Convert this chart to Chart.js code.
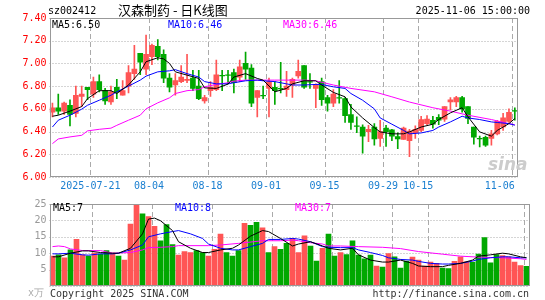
<!DOCTYPE html>
<html><head><meta charset="utf-8">
<script src="https://cdn.jsdelivr.net/npm/chart.js@4"></script>
<style>
body{margin:0;width:545px;height:300px;background:#fff;position:relative;overflow:hidden;font-family:"DejaVu Sans Mono",monospace;font-size:10px}
.t{position:absolute;white-space:nowrap;line-height:12px}
canvas{position:absolute;left:0}
</style></head><body>
<canvas id="k" width="545" height="200" style="top:0"></canvas>
<canvas id="v" width="545" height="105" style="top:195px"></canvas>
<div class="t" style="left:48px;top:5px;color:#000">sz002412</div>
<div class="t" style="left:118px;top:2px;font-family:'Noto Sans CJK SC';font-size:13px;line-height:16px;color:#000">汉森制药 - 日K线图</div>
<div class="t" style="right:15px;top:5px;color:#000">2025-11-06 15:00:00</div>
<div class="t" style="left:52px;top:19px;color:#000">MA5:6.50</div>
<div class="t" style="left:168px;top:19px;color:#0000ff">MA10:6.46</div>
<div class="t" style="left:283px;top:19px;color:#ff00ff">MA30:6.46</div>
<div class="t" style="left:53px;top:202px;color:#000">MA5:7</div>
<div class="t" style="left:175px;top:202px;color:#0000ff">MA10:8</div>
<div class="t" style="left:295px;top:202px;color:#ff00ff">MA30:7</div>
<div class="t" style="left:28px;top:287px;color:#aaa">x万</div>
<div class="t" style="left:50px;top:288px;color:#333">Copyright 2025 SINA.COM</div>
<div class="t" style="right:16px;top:288px;color:#333">http://finance.sina.com.cn</div>
<div class="t" style="left:488px;top:155px;color:#ccc;font-family:'DejaVu Sans';font-style:italic;font-weight:bold;font-size:17px;line-height:18px">sina</div>
<script>
const dates = ['2025-07-10','2025-07-11','2025-07-14','2025-07-15','2025-07-16','2025-07-17','2025-07-18','2025-07-21','2025-07-22','2025-07-23','2025-07-24','2025-07-25','2025-07-28','2025-07-29','2025-07-30','2025-07-31','2025-08-01','2025-08-04','2025-08-05','2025-08-06','2025-08-07','2025-08-08','2025-08-11','2025-08-12','2025-08-13','2025-08-14','2025-08-15','2025-08-18','2025-08-19','2025-08-20','2025-08-21','2025-08-22','2025-08-25','2025-08-26','2025-08-27','2025-08-28','2025-08-29','2025-09-01','2025-09-02','2025-09-03','2025-09-04','2025-09-05','2025-09-08','2025-09-09','2025-09-10','2025-09-11','2025-09-12','2025-09-15','2025-09-16','2025-09-17','2025-09-18','2025-09-19','2025-09-22','2025-09-23','2025-09-24','2025-09-25','2025-09-26','2025-09-29','2025-09-30','2025-10-09','2025-10-10','2025-10-13','2025-10-14','2025-10-15','2025-10-16','2025-10-17','2025-10-20','2025-10-21','2025-10-22','2025-10-23','2025-10-24','2025-10-27','2025-10-28','2025-10-29','2025-10-30','2025-10-31','2025-11-03','2025-11-04','2025-11-05','2025-11-06'];
const tickDates = ['2025-07-21','2025-08-04','2025-08-18','2025-09-01','2025-09-15','2025-09-29','2025-10-15','2025-11-06'];
const tickLabels = ['2025-07-21','08-04','08-18','09-01','09-15','09-29','10-15','11-06    '];
const priceTicks = ['6.00','6.20','6.40','6.60','6.80','7.00','7.20','7.40'];

const opens  = [6.57,6.61,6.58,6.63,6.56,6.71,6.79,6.73,6.84,6.76,6.66,6.79,6.72,6.80,6.91,7.09,6.95,7.06,7.15,7.08,6.87,6.81,6.84,6.85,6.87,6.80,6.67,6.76,6.77,6.895,6.90,6.92,6.88,7.00,6.96,6.70,6.72,6.78,6.79,6.78,6.77,6.81,6.89,6.98,6.84,6.78,6.84,6.70,6.65,6.70,6.69,6.55,6.45,6.44,6.40,6.44,6.34,6.43,6.415,6.355,6.33,6.32,6.39,6.41,6.47,6.50,6.525,6.51,6.66,6.66,6.70,6.62,6.44,6.34,6.35,6.34,6.38,6.44,6.49,6.585];
const highs  = [6.65,6.73,6.66,6.68,6.80,6.80,6.79,6.88,6.90,6.78,6.80,6.86,6.85,6.98,7.16,7.09,7.25,7.17,7.21,7.12,6.91,6.91,6.98,7.08,6.94,6.94,6.72,6.84,7.03,6.94,6.94,6.95,7.03,7.10,6.99,6.76,6.80,6.87,6.84,7.01,6.93,6.87,7.03,6.98,6.91,6.82,6.87,6.72,6.77,6.85,6.70,6.64,6.53,6.46,6.456,6.47,6.50,6.456,6.42,6.39,6.44,6.42,6.45,6.535,6.54,6.535,6.55,6.62,6.70,6.71,6.71,6.62,6.44,6.36,6.36,6.41,6.50,6.56,6.60,6.61];
const lows   = [6.53,6.55,6.55,6.45,6.53,6.62,6.68,6.70,6.75,6.64,6.64,6.69,6.72,6.74,6.86,6.90,6.90,6.99,7.03,6.83,6.75,6.72,6.83,6.83,6.76,6.68,6.65,6.71,6.76,6.76,6.82,6.74,6.84,6.86,6.62,6.53,6.69,6.53,6.64,6.74,6.71,6.70,6.87,6.78,6.78,6.61,6.63,6.58,6.62,6.65,6.48,6.42,6.39,6.21,6.31,6.28,6.27,6.27,6.32,6.25,6.33,6.18,6.34,6.40,6.46,6.43,6.46,6.49,6.59,6.62,6.57,6.47,6.29,6.265,6.27,6.28,6.37,6.41,6.48,6.50];
const closes = [6.61,6.58,6.65,6.55,6.72,6.73,6.77,6.84,6.77,6.67,6.75,6.75,6.76,6.92,6.95,7.01,7.08,7.16,7.06,6.87,6.79,6.85,6.88,6.86,6.78,6.69,6.70,6.79,6.90,6.89,6.895,6.83,6.97,6.95,6.65,6.76,6.715,6.84,6.76,6.775,6.80,6.86,6.93,6.79,6.835,6.81,6.68,6.65,6.73,6.695,6.54,6.48,6.445,6.36,6.42,6.335,6.40,6.40,6.36,6.335,6.43,6.405,6.42,6.505,6.51,6.465,6.50,6.62,6.68,6.70,6.60,6.515,6.35,6.335,6.28,6.38,6.49,6.52,6.57,6.58];
const volumes = [9.1,9.5,8.6,11.0,14.2,9.5,9.1,10.0,9.7,10.8,10.0,9.1,7.9,18.9,24.8,22.0,21.2,18.2,13.8,18.7,12.6,9.4,10.5,10.2,10.8,10.2,9.1,11.2,15.8,10.2,9.1,10.8,19.1,18.5,19.4,17.7,10.2,12.0,11.2,13.0,14.5,10.2,15.3,12.2,7.6,11.5,15.8,9.1,10.2,9.6,13.8,9.4,8.3,9.4,6.1,5.8,9.9,8.9,5.5,7.6,8.8,7.9,6.1,7.3,6.9,5.5,5.3,7.5,8.9,7.4,7.3,9.7,14.8,7.1,9.6,9.3,8.9,7.3,6.2,6.0];

// moving-average lines: [bar index, value]
const ma5Pts  = [[0,6.535],[1,6.544],[3,6.58],[5,6.62],[6,6.69],[8,6.76],[10,6.76],[11,6.735],[13,6.81],[15,6.926],[16,7.015],[18,7.05],[19,7.04],[20,7.00],[21,6.926],[23,6.897],[25,6.868],[26,6.785],[28,6.78],[30,6.818],[31,6.88],[33,6.91],[35,6.868],[36,6.853],[38,6.75],[40,6.78],[41,6.82],[43,6.847],[45,6.847],[46,6.81],[48,6.745],[50,6.706],[51,6.617],[53,6.52],[55,6.435],[56,6.397],[58,6.38],[60,6.38],[61,6.397],[63,6.44],[65,6.465],[66,6.506],[68,6.565],[70,6.61],[71,6.53],[73,6.397],[75,6.36],[76,6.41],[78,6.47],[79,6.515]];
const ma10Pts = [[0,6.44],[1,6.50],[3,6.544],[5,6.597],[6,6.632],[8,6.676],[10,6.72],[11,6.75],[13,6.80],[15,6.853],[16,6.888],[18,6.926],[20,6.935],[21,6.945],[23,6.91],[25,6.88],[26,6.84],[28,6.82],[30,6.82],[31,6.83],[33,6.847],[35,6.853],[36,6.847],[38,6.84],[40,6.82],[41,6.81],[43,6.81],[45,6.815],[46,6.815],[48,6.794],[50,6.78],[51,6.735],[53,6.676],[55,6.60],[56,6.52],[58,6.465],[60,6.41],[61,6.38],[63,6.388],[65,6.41],[66,6.44],[68,6.485],[70,6.535],[71,6.52],[73,6.506],[75,6.485],[76,6.48],[78,6.47],[79,6.456]];
const ma30Pts = [[0,6.294],[1,6.335],[3,6.353],[5,6.367],[6,6.406],[8,6.42],[10,6.43],[11,6.455],[13,6.50],[15,6.544],[16,6.60],[18,6.653],[20,6.697],[21,6.735],[23,6.76],[25,6.77],[26,6.794],[28,6.815],[30,6.83],[31,6.844],[33,6.853],[38,6.853],[43,6.853],[45,6.847],[48,6.81],[51,6.78],[55,6.75],[58,6.706],[61,6.66],[65,6.61],[68,6.58],[71,6.544],[75,6.506],[78,6.47],[79,6.46]];
const volMa5Pts  = [[0,8.9],[1,8.9],[3,10.0],[5,10.7],[6,10.7],[8,10.2],[10,10.0],[11,10.0],[13,11.5],[15,15.9],[16,20.4],[17,20.7],[18,19.9],[20,16.9],[21,13.5],[23,11.5],[25,10.2],[26,10.2],[28,11.0],[30,11.5],[31,12.5],[33,15.2],[35,16.9],[36,16.6],[38,14.5],[40,12.2],[41,12.8],[43,13.5],[45,12.2],[46,11.5],[48,11.0],[50,11.5],[51,9.5],[53,7.9],[55,7.3],[56,7.3],[58,7.9],[60,6.9],[61,6.1],[63,5.9],[65,5.9],[66,6.3],[68,6.9],[70,7.9],[71,9.1],[73,9.5],[75,10.0],[76,9.8],[78,8.9],[79,8.6]];
const volMa10Pts = [[0,9.8],[1,9.8],[3,10.0],[5,9.5],[6,9.4],[8,9.8],[10,9.8],[11,10.0],[13,11.0],[15,12.5],[16,15.0],[18,15.9],[20,16.6],[21,16.9],[23,15.9],[25,14.5],[26,12.8],[28,11.5],[30,11.0],[31,11.0],[33,12.0],[35,13.0],[36,14.2],[38,14.2],[40,14.5],[41,14.3],[43,13.5],[45,12.0],[46,11.8],[48,11.7],[50,11.7],[51,11.0],[53,10.2],[55,9.3],[56,8.6],[58,8.1],[60,7.9],[61,7.5],[63,6.9],[65,6.7],[66,6.7],[68,6.9],[70,7.6],[71,8.1],[73,8.6],[75,8.9],[76,8.9],[78,8.6],[79,8.6]];
const volMa30Pts = [[0,12.0],[1,12.2],[2,12.0],[3,11.3],[5,10.8],[8,10.8],[10,10.0],[13,10.2],[15,11.0],[16,11.7],[18,11.8],[20,12.0],[21,12.3],[26,12.3],[28,12.5],[31,13.0],[35,13.8],[38,13.8],[40,14.0],[41,13.8],[43,13.2],[45,12.8],[46,12.2],[48,12.2],[51,12.0],[55,11.8],[58,11.4],[61,10.5],[65,9.7],[68,9.1],[71,8.8],[75,8.6],[78,8.3],[79,8.1]];

const UP = '#ff5555', DOWN = '#00a800';
const FONT = {family:'DejaVu Sans Mono', size:10};
const colors = closes.map((c,i) => c >= opens[i] ? UP : DOWN);
const series = pts => { const a = dates.map(() => null); pts.forEach(p => { a[p[0]] = p[1]; }); return a; };
const tickIdx = tickDates.map(d => dates.indexOf(d));

// dashed/dotted grid drawn from the chart's own scales, plus the plot frame
const gridFrame = {id:'gridFrame',
  beforeDatasetsDraw(c){
    const a=c.chartArea, x=c.ctx, xs=c.scales.x, ys=c.scales.y;
    x.save(); x.strokeStyle='#aaa'; x.lineWidth=1;
    x.setLineDash([1,2]);
    ys.ticks.forEach(t => { const y=Math.round(ys.getPixelForValue(t.value))+0.5;
      x.beginPath(); x.moveTo(a.left,y); x.lineTo(a.right,y); x.stroke(); });
    x.setLineDash([5,3]);
    const half=(xs.getPixelForValue(1)-xs.getPixelForValue(0))/2;
    tickIdx.forEach(i => { const px=Math.round(xs.getPixelForValue(i)-half)+0.5;
      x.beginPath(); x.moveTo(px,a.top); x.lineTo(px,a.bottom); x.stroke(); });
    x.restore();
  },
  afterDatasetsDraw(c){
    const a=c.chartArea, x=c.ctx; x.save(); x.strokeStyle='#999'; x.lineWidth=1;
    const l=Math.round(a.left)+0.5, t=Math.round(a.top)+0.5, r=Math.round(a.right)-0.5, b=Math.round(a.bottom)-0.5;
    x.strokeRect(l,t,r-l,b-t); x.restore(); }};

const line = (data,color) => ({type:'line', data, borderColor:color, borderWidth:1, pointRadius:0, spanGaps:true, tension:0, order:0});

new Chart(document.getElementById('k'), {
  type:'bar',
  data:{labels:dates, datasets:[
    line(series(ma5Pts),'#000000'),
    line(series(ma10Pts),'#0000ff'),
    line(series(ma30Pts),'#ff00ff'),
    {data: opens.map((o,i)=>[o,closes[i]]), backgroundColor:colors, barThickness:5, grouped:false, order:1},
    {data: lows.map((l,i)=>[l,highs[i]]), backgroundColor:colors, barThickness:1, grouped:false, order:2}
  ]},
  options:{responsive:false, animation:false, events:[],
    layout:{padding:{top:18,right:15.5,left:0,bottom:0}},
    plugins:{legend:{display:false}, tooltip:{enabled:false}},
    scales:{
      x:{offset:true, grid:{display:false, drawTicks:false}, border:{display:false},
         ticks:{autoSkip:false, maxRotation:0, minRotation:0, padding:3, labelOffset:-3, color:'#1a7fd0', font:FONT,
           callback:(v,i)=>{ const k = tickIdx.indexOf(i); return k<0 ? '' : tickLabels[k]; }},
         afterFit:s=>{s.height=23;}},
      y:{min:6, max:7.4, grid:{display:false, drawTicks:false}, border:{display:false},
         ticks:{stepSize:0.2, padding:3, color:'#ff0000', font:FONT, callback:v=>{const s=v.toFixed(2); return priceTicks.includes(s)?s:'';}},
         afterFit:s=>{s.width=49.5;}}
    }},
  plugins:[gridFrame]
});

new Chart(document.getElementById('v'), {
  type:'bar',
  data:{labels:dates, datasets:[
    line(series(volMa5Pts),'#000000'),
    line(series(volMa10Pts),'#0000ff'),
    line(series(volMa30Pts),'#ff00ff'),
    {data: volumes, backgroundColor:colors, barThickness:5, grouped:false, order:1}
  ]},
  options:{responsive:false, animation:false, events:[],
    layout:{padding:{top:6,right:15.5,left:0,bottom:0}},
    plugins:{legend:{display:false}, tooltip:{enabled:false}},
    scales:{
      x:{offset:true, grid:{display:false, drawTicks:false}, border:{display:false},
         ticks:{display:false}, afterFit:s=>{s.height=14;}},
      y:{min:0, max:25, grid:{display:false, drawTicks:false}, border:{display:false},
         ticks:{stepSize:5, padding:3, color:'#999', font:FONT, callback:v=> v===0 ? '' : String(v)},
         afterFit:s=>{s.width=49.5;}}
    }},
  plugins:[gridFrame]
});
</script>
</body></html>
